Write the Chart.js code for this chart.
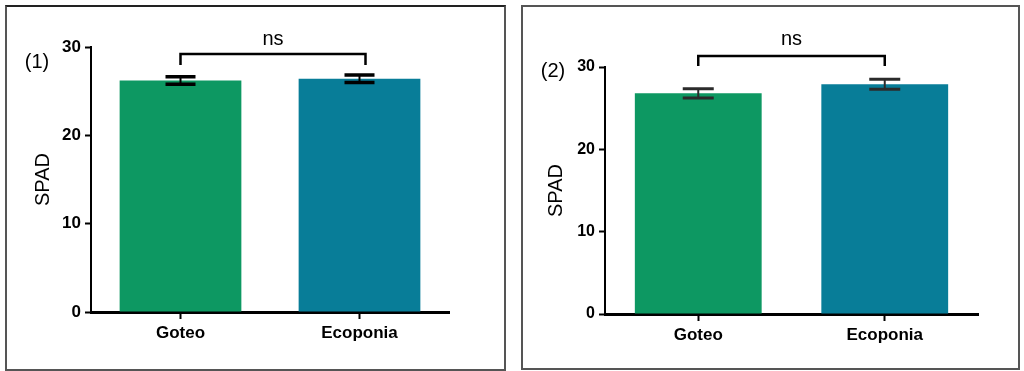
<!DOCTYPE html>
<html>
<head>
<meta charset="utf-8">
<script src="https://cdn.jsdelivr.net/npm/chart.js@4.4.1/dist/chart.umd.min.js"></script>
<style>
  html, body { margin: 0; padding: 0; background: #fff; }
  body { position: relative; width: 1024px; height: 371px; overflow: hidden; }
  .frame { position: absolute; top: 5px; box-sizing: border-box; border: 2px solid #555; }
  #frame1 { left: 5px; width: 501px; height: 366px; border-top-color: #222; }
  #frame2 { left: 521px; width: 499px; height: 365px; }
  canvas { position: absolute; top: 0; }
  #c1 { left: 0; }
  #c2 { left: 512px; }
</style>
</head>
<body>
<div class="frame" id="frame1"></div>
<div class="frame" id="frame2"></div>
<canvas id="c1" width="512" height="371"></canvas>
<canvas id="c2" width="512" height="371"></canvas>
<script>
// Treatments compared in both trials
const categories = ['Goteo', 'Ecoponia'];

// Trial (1): mean SPAD readings and their standard errors
const spad1 = [26.2, 26.4];
const sem1 = [0.42, 0.42];

// Trial (2): mean SPAD readings and their standard errors
const spad2 = [26.8, 27.9];
const sem2 = [0.55, 0.6];

const yTicks = [0, 10, 20, 30];
const panelNames = ['(1)', '(2)'];
const sigText = 'ns';
const axisTitle = 'SPAD';

const barColors = ['#0d9862', '#087d98'];

Chart.defaults.font.family = "'Liberation Sans', Arial, Helvetica, sans-serif";
Chart.defaults.color = '#000';

// Draws error bars, the significance bracket and the panel tag
const annotate = {
  id: 'annotate',
  afterDatasetsDraw(chart, args, opts) {
    const ctx = chart.ctx;
    const ds = chart.data.datasets[0];
    const meta = chart.getDatasetMeta(0);
    const yScale = chart.scales.y;
    ctx.save();
    ctx.strokeStyle = opts.errorColor;
    meta.data.forEach((bar, i) => {
      const v = ds.data[i];
      const e = ds.errors[i];
      const hi = yScale.getPixelForValue(v + e);
      const lo = yScale.getPixelForValue(v - e);
      const hw = opts.capHalf;
      ctx.lineWidth = opts.stemWidth;
      ctx.beginPath();
      ctx.moveTo(bar.x, hi);
      ctx.lineTo(bar.x, lo);
      ctx.stroke();
      ctx.lineWidth = opts.capWidth;
      ctx.beginPath();
      ctx.moveTo(bar.x - hw, hi); ctx.lineTo(bar.x + hw, hi);
      ctx.moveTo(bar.x - hw, lo); ctx.lineTo(bar.x + hw, lo);
      ctx.stroke();
    });

    // significance bracket between the two treatments
    const xa = meta.data[0].x;
    const xb = meta.data[1].x + opts.bracketShift;
    const by = opts.bracketY;
    ctx.strokeStyle = '#000';
    ctx.lineWidth = 2.5;
    ctx.lineJoin = 'miter';
    ctx.beginPath();
    ctx.moveTo(xa, by + opts.bracketDrop);
    ctx.lineTo(xa, by);
    ctx.lineTo(xb, by);
    ctx.lineTo(xb, by + opts.bracketDrop);
    ctx.stroke();

    ctx.fillStyle = '#000';
    ctx.font = "20px 'Liberation Sans', Arial, sans-serif";
    ctx.textAlign = 'center';
    ctx.textBaseline = 'middle';
    ctx.fillText(sigText, (xa + xb) / 2, opts.sigY);

    // panel tag
    ctx.font = "20px 'Liberation Sans', Arial, sans-serif";
    ctx.fillText(opts.tag, opts.tagX, opts.tagY);
    ctx.restore();
  }
};

function makeChart(canvasId, values, errors, g) {
  return new Chart(document.getElementById(canvasId), {
    type: 'bar',
    data: {
      labels: categories,
      datasets: [{
        data: values,
        errors: errors,
        backgroundColor: barColors,
        borderWidth: 0,
        barPercentage: 0.68,
        categoryPercentage: 1.0
      }]
    },
    plugins: [annotate],
    options: {
      responsive: false,
      animation: false,
      events: [],
      layout: { padding: { left: 0, right: 512 - g.right, top: g.top, bottom: 0 } },
      plugins: {
        legend: { display: false },
        tooltip: { enabled: false },
        annotate: g.annot
      },
      scales: {
        x: {
          offset: true,
          afterFit: (s) => { s.height = 371 - g.bottom; },
          grid: {
            offset: false,
            drawOnChartArea: false,
            drawTicks: true,
            tickLength: 7,
            tickWidth: 2,
            tickColor: '#000'
          },
          border: { display: true, color: '#000', width: 3 },
          ticks: {
            padding: 4,
            color: '#000',
            font: { size: g.catSize, weight: 'bold' }
          }
        },
        y: {
          min: 0,
          max: 30,
          afterFit: (s) => { s.width = g.left; },
          afterBuildTicks: (s) => { s.ticks = yTicks.map(v => ({ value: v })); },
          grid: {
            drawOnChartArea: false,
            drawTicks: true,
            tickLength: 6,
            tickWidth: 2,
            tickColor: '#000'
          },
          border: { display: true, color: '#000', width: 2 },
          ticks: {
            padding: 4,
            color: '#000',
            font: { size: g.tickSize, weight: 'bold' }
          },
          title: {
            display: true,
            text: axisTitle,
            color: '#000',
            font: { size: 20, weight: 'normal' },
            padding: { top: g.titlePad, bottom: 0 }
          }
        }
      }
    }
  });
}

makeChart('c1', spad1, sem1, {
  left: 91, right: 449, top: 47, bottom: 312,
  catSize: 17, tickSize: 17, titlePad: 31,
  annot: {
    tag: panelNames[0], tagX: 37, tagY: 62,
    errorColor: '#000', capHalf: 15, capWidth: 3.5, stemWidth: 2,
    bracketY: 54, bracketDrop: 11, bracketShift: 6, sigY: 39
  }
});

makeChart('c2', spad2, sem2, {
  left: 93, right: 466, top: 67, bottom: 314,
  catSize: 17, tickSize: 16, titlePad: 32,
  annot: {
    tag: panelNames[1], tagX: 41, tagY: 71,
    errorColor: '#2b2b2b', capHalf: 15.5, capWidth: 3, stemWidth: 2,
    bracketY: 56, bracketDrop: 10, bracketShift: 0, sigY: 39
  }
});
</script>
</body>
</html>
